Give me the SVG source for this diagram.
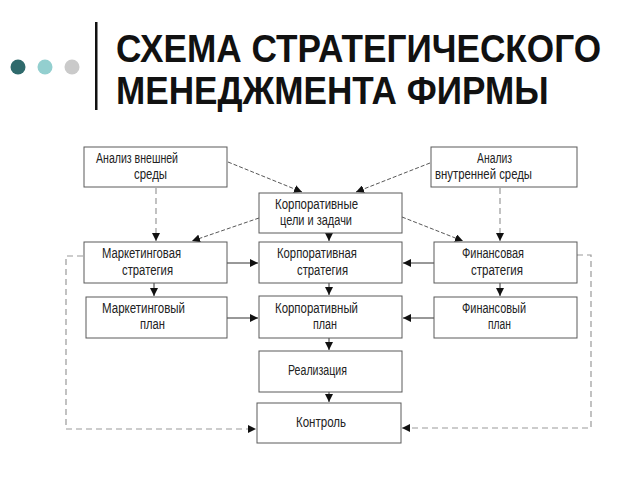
<svg xmlns="http://www.w3.org/2000/svg" width="640" height="480" viewBox="0 0 640 480">
<style>
.box{fill:#fff;stroke:#5a5a5a;stroke-width:1}
.t{font-family:"Liberation Sans",Arial,sans-serif;font-size:14px;fill:#222}
.title{font-family:"Liberation Sans",Arial,sans-serif;font-weight:bold;font-size:39px;fill:#111}
.s{fill:none;stroke:#333;stroke-width:1}
.d{fill:none;stroke:#999;stroke-width:1.2;stroke-dasharray:6,4}
.f{fill:none;stroke:#444;stroke-width:0.9;stroke-dasharray:4,2}
</style>
<defs>
<marker id="ah" viewBox="0 0 10 10" refX="10" refY="5" markerWidth="8" markerHeight="8" markerUnits="userSpaceOnUse" orient="auto">
<path d="M0,0 L10,5 L0,10 z" fill="#111"/>
</marker>
</defs>
<rect width="640" height="480" fill="#fff"/>
<g id="header">
<circle cx="18" cy="67" r="7.5" fill="#2f6a6c"/>
<circle cx="45" cy="67" r="7.5" fill="#93cfcf"/>
<circle cx="72" cy="67" r="7.5" fill="#cacaca"/>
<rect x="95" y="22" width="2.5" height="88" fill="#111"/>
<text class="title" transform="translate(116,62) scale(0.86,1)" x="0" y="0" textLength="564" lengthAdjust="spacingAndGlyphs">СХЕМА СТРАТЕГИЧЕСКОГО</text>
<text class="title" transform="translate(116,104) scale(0.86,1)" x="0" y="0" textLength="503" lengthAdjust="spacingAndGlyphs">МЕНЕДЖМЕНТА ФИРМЫ</text>
</g>
<g id="connectors">
<path class="f" d="M228,162 L302,192" marker-end="url(#ah)"/>
<path class="f" d="M430,163 L356,192" marker-end="url(#ah)"/>
<path class="f" d="M259,218 L192,241" marker-end="url(#ah)"/>
<path class="f" d="M402,217 L463,241" marker-end="url(#ah)"/>
<path class="d" d="M156,188 L156,241" marker-end="url(#ah)"/>
<path class="d" d="M500,188 L500,241" marker-end="url(#ah)"/>
<path class="s" d="M329,233 L329,241" marker-end="url(#ah)"/>
<path class="s" d="M227,263 L258,263" marker-end="url(#ah)"/>
<path class="s" d="M434,263 L403,263" marker-end="url(#ah)"/>
<path class="s" d="M154,283 L154,296" marker-end="url(#ah)"/>
<path class="s" d="M329,283 L329,295" marker-end="url(#ah)"/>
<path class="s" d="M500,283 L500,296" marker-end="url(#ah)"/>
<path class="s" d="M227,318 L258,318" marker-end="url(#ah)"/>
<path class="s" d="M434,318 L403,318" marker-end="url(#ah)"/>
<path class="s" d="M329,338 L329,350" marker-end="url(#ah)"/>
<path class="s" d="M329,392 L329,402" marker-end="url(#ah)"/>
<path class="d" d="M83,256 L66,256 L66,429 L256,429" marker-end="url(#ah)"/>
<path class="d" d="M577,255 L591,255 L591,428 L402,428" marker-end="url(#ah)"/>
</g>
<g id="n_ext"><rect class="box" x="84" y="147" width="143" height="40"/>
<text class="t" x="96" y="163" textLength="82" lengthAdjust="spacingAndGlyphs">Анализ внешней</text><text class="t" x="134" y="179" textLength="33" lengthAdjust="spacingAndGlyphs">среды</text></g>
<g id="n_int"><rect class="box" x="431" y="147" width="146" height="40"/>
<text class="t" x="477" y="163" textLength="35" lengthAdjust="spacingAndGlyphs">Анализ</text><text class="t" x="435" y="179" textLength="97" lengthAdjust="spacingAndGlyphs">внутренней среды</text></g>
<g id="n_goals"><rect class="box" x="259" y="193" width="143" height="40"/>
<text class="t" x="275" y="209" textLength="83" lengthAdjust="spacingAndGlyphs">Корпоративные</text><text class="t" x="280" y="225" textLength="72" lengthAdjust="spacingAndGlyphs">цели и задачи</text></g>
<g id="n_mstrat"><rect class="box" x="84" y="242" width="143" height="41"/>
<text class="t" x="102" y="258" textLength="79" lengthAdjust="spacingAndGlyphs">Маркетинговая</text><text class="t" x="122" y="275" textLength="51" lengthAdjust="spacingAndGlyphs">стратегия</text></g>
<g id="n_cstrat"><rect class="box" x="259" y="242" width="143" height="41"/>
<text class="t" x="277" y="258" textLength="80" lengthAdjust="spacingAndGlyphs">Корпоративная</text><text class="t" x="297" y="275" textLength="51" lengthAdjust="spacingAndGlyphs">стратегия</text></g>
<g id="n_fstrat"><rect class="box" x="434" y="242" width="143" height="41"/>
<text class="t" x="462" y="258" textLength="62" lengthAdjust="spacingAndGlyphs">Финансовая</text><text class="t" x="471" y="275" textLength="52" lengthAdjust="spacingAndGlyphs">стратегия</text></g>
<g id="n_mplan"><rect class="box" x="86" y="297" width="141" height="41"/>
<text class="t" x="102" y="313" textLength="83" lengthAdjust="spacingAndGlyphs">Маркетинговый</text><text class="t" x="140" y="329" textLength="25" lengthAdjust="spacingAndGlyphs">план</text></g>
<g id="n_cplan"><rect class="box" x="259" y="296" width="143" height="42"/>
<text class="t" x="275" y="313" textLength="83" lengthAdjust="spacingAndGlyphs">Корпоративный</text><text class="t" x="313" y="329" textLength="24" lengthAdjust="spacingAndGlyphs">план</text></g>
<g id="n_fplan"><rect class="box" x="434" y="297" width="143" height="41"/>
<text class="t" x="462" y="313" textLength="64" lengthAdjust="spacingAndGlyphs">Финансовый</text><text class="t" x="488" y="329" textLength="23" lengthAdjust="spacingAndGlyphs">план</text></g>
<g id="n_impl"><rect class="box" x="259" y="351" width="143" height="41"/>
<text class="t" x="288" y="375" textLength="59" lengthAdjust="spacingAndGlyphs">Реализация</text></g>
<g id="n_ctrl"><rect class="box" x="257" y="403" width="144" height="40"/>
<text class="t" x="296" y="427" textLength="50" lengthAdjust="spacingAndGlyphs">Контроль</text></g>
</svg>
